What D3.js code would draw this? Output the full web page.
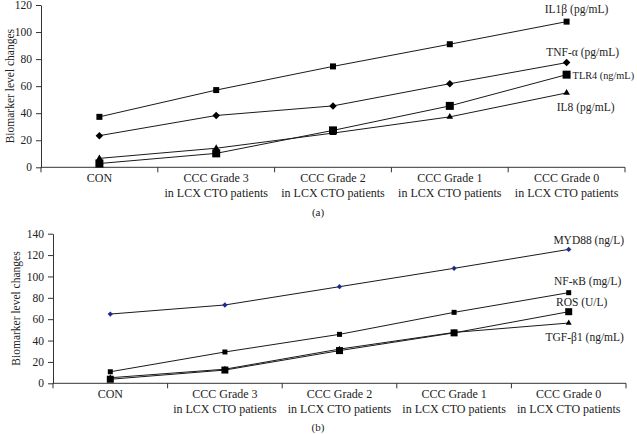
<!DOCTYPE html>
<html>
<head>
<meta charset="utf-8">
<script src="https://cdn.jsdelivr.net/npm/d3@7"></script>
<style>
  body { margin: 0; background: #fff; }
  svg { display: block; font-family: "Liberation Serif", "DejaVu Serif", serif; }
</style>
</head>
<body>
<svg id="chart" width="637" height="434"></svg>
<script>
// categories shared by both panels
const categorias = ["CON", "CCC Grade 3", "CCC Grade 2", "CCC Grade 1", "CCC Grade 0"];
const subtitulo = "in LCX CTO patients";

// panel (a)
const ticksA = [0, 20, 40, 60, 80, 100, 120];
const il1b = [37.3, 57.1, 74.6, 91.0, 107.7];
const tnfa = [23.4, 38.3, 45.4, 61.8, 77.4];
const tlr4 = [2.8, 10.3, 27.3, 45.4, 68.5];
const il8 = [6.6, 14.1, 25.3, 37.3, 55.0];

// panel (b)
const ticksB = [0, 20, 40, 60, 80, 100, 120, 140];
const myd88 = [64.8, 73.3, 90.4, 107.6, 125.3];
const nfkb = [10.8, 29.3, 45.8, 66.4, 84.8];
const ros = [3.8, 12.4, 30.6, 47.2, 67.0];
const tgfb1 = [5.2, 13.2, 32.0, 47.6, 56.4];

const svg = d3.select("#chart");

function dibujarPanel(cfg) {
    const g = svg.append("g");

    const x = d3.scaleBand()
        .domain(categorias)
        .range([cfg.izq, cfg.der])
        .padding(0);

    const y = d3.scaleLinear()
        .domain([0, d3.max(cfg.ticks)])
        .range([cfg.abajo, cfg.arriba]);

    // eje Y
    const ejeY = g.append("g")
        .attr("transform", `translate(${cfg.izq},0)`)
        .call(d3.axisLeft(y).tickValues(cfg.ticks).tickSize(5).tickSizeOuter(0).tickPadding(4));
    ejeY.selectAll("path, line").attr("stroke", "#333").attr("stroke-width", 1);
    ejeY.selectAll("text")
        .style("font-family", "Liberation Serif, serif")
        .style("font-size", "11.5px")
        .attr("fill", "#222");

    // eje X: línea y marcas en los bordes de cada banda
    g.append("line")
        .attr("x1", cfg.izq).attr("x2", cfg.der)
        .attr("y1", cfg.abajo).attr("y2", cfg.abajo)
        .attr("stroke", "#333");
    const bordes = [cfg.izq].concat(categorias.map(c => x(c) + x.bandwidth()));
    g.selectAll(".marca")
        .data(bordes)
        .enter()
        .append("line")
        .attr("x1", d => d).attr("x2", d => d)
        .attr("y1", cfg.abajo).attr("y2", cfg.abajo + 5)
        .attr("stroke", "#333");

    // etiquetas de categoría
    const etiquetas = g.selectAll(".cat")
        .data(categorias)
        .enter()
        .append("text")
        .attr("x", d => x(d) + x.bandwidth() / 2)
        .attr("y", cfg.abajo + 15)
        .attr("text-anchor", "middle")
        .style("font-size", "12px")
        .attr("fill", "#222");
    etiquetas.append("tspan").text(d => d);
    etiquetas.filter(d => d !== "CON")
        .append("tspan")
        .attr("x", d => x(d) + x.bandwidth() / 2)
        .attr("dy", 15)
        .text(subtitulo);

    // título del eje Y
    g.append("text")
        .attr("transform", `translate(${cfg.tituloX},${(cfg.arriba + cfg.abajo) / 2}) rotate(-90)`)
        .attr("text-anchor", "middle")
        .style("font-size", "11.5px")
        .attr("fill", "#222")
        .text("Biomarker level changes");

    // letra del panel
    g.append("text")
        .attr("x", 318)
        .attr("y", cfg.letraY)
        .attr("text-anchor", "middle")
        .style("font-size", "11px")
        .attr("fill", "#222")
        .text(cfg.letra);

    const cx = (d, i) => x(categorias[i]) + x.bandwidth() / 2;
    const linea = d3.line().x((d, i) => cx(d, i)).y(d => y(d));

    cfg.series.forEach(s => {
        g.append("path")
            .attr("d", linea(s.valores))
            .attr("fill", "none")
            .attr("stroke", "#1a1a1a")
            .attr("stroke-width", 1);
    });

    cfg.series.forEach(s => {
        const tipo = s.simbolo === "cuadrado" ? d3.symbolSquare
            : s.simbolo === "diamante" ? d3.symbolDiamond2 : d3.symbolTriangle2;
        g.selectAll(null)
            .data(s.valores)
            .enter()
            .append("path")
            .attr("transform", (d, i) => `translate(${cx(d, i)},${y(d)})`)
            .attr("d", d3.symbol().type(tipo).size(s.tam))
            .attr("fill", s.color || "#000");

        const ultimo = s.valores[s.valores.length - 1];
        g.append("text")
            .attr("x", cx(ultimo, s.valores.length - 1) + s.dx)
            .attr("y", y(ultimo) + s.dy)
            .attr("text-anchor", s.anchor)
            .style("font-size", s.letra || "11.5px")
            .attr("fill", "#222")
            .text(s.nombre);
    });
}

dibujarPanel({
    izq: 41, der: 625, arriba: 5, abajo: 167.3,
    ticks: ticksA, tituloX: 14, letra: "(a)", letraY: 216,
    series: [
        { nombre: "IL1β (pg/mL)", valores: il1b, simbolo: "cuadrado", tam: 36, dx: 10, dy: -9, anchor: "middle" },
        { nombre: "TNF-α (pg/mL)", valores: tnfa, simbolo: "diamante", tam: 36, dx: 16, dy: -7, anchor: "middle" },
        { nombre: "TLR4 (ng/mL)", valores: tlr4, simbolo: "cuadrado", tam: 64, dx: 6, dy: 4, anchor: "start", letra: "10.3px" },
        { nombre: "IL8 (pg/mL)", valores: il8, simbolo: "triangulo", tam: 32, dx: 19, dy: 18, anchor: "middle" }
    ]
});

dibujarPanel({
    izq: 53, der: 626, arriba: 233.7, abajo: 383.3,
    ticks: ticksB, tituloX: 20, letra: "(b)", letraY: 431,
    series: [
        { nombre: "MYD88 (ng/L)", valores: myd88, simbolo: "diamante", tam: 18, color: "#1f2a8c", dx: 20, dy: -5, anchor: "middle" },
        { nombre: "NF-κB (mg/L)", valores: nfkb, simbolo: "cuadrado", tam: 25, dx: 19, dy: -8, anchor: "middle" },
        { nombre: "ROS (U/L)", valores: ros, simbolo: "cuadrado", tam: 49, dx: 13, dy: -6, anchor: "middle" },
        { nombre: "TGF-β1 (ng/mL)", valores: tgfb1, simbolo: "triangulo", tam: 25, dx: 16, dy: 18, anchor: "middle" }
    ]
});
</script>
</body>
</html>
